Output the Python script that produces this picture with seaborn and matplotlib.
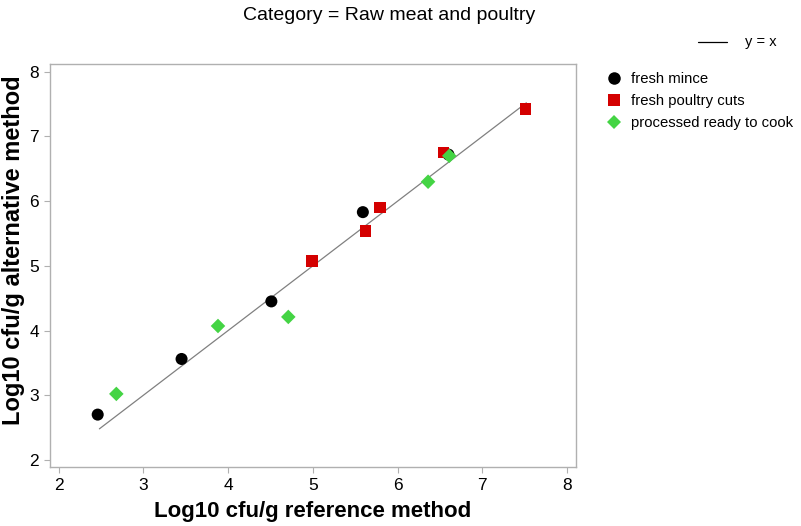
import matplotlib
matplotlib.use("Agg")
import matplotlib.pyplot as plt
import seaborn as sns
import pandas as pd
from matplotlib.lines import Line2D

sns.set_theme(style="white")
plt.rcParams['font.family'] = ['Liberation Sans', 'DejaVu Sans']
plt.rcParams['text.color'] = 'black'
plt.rcParams['axes.labelcolor'] = 'black'

groups = ["fresh mince", "fresh poultry cuts", "processed ready to cook"]
mince_ref = [2.46, 3.45, 4.51, 5.59, 6.60]
mince_alt = [2.70, 3.56, 4.45, 5.83, 6.72]
poultry_ref = [4.99, 5.62, 5.79, 6.54, 7.51]
poultry_alt = [5.07, 5.54, 5.90, 6.75, 7.42]
processed_ref = [2.68, 3.88, 4.71, 6.36, 6.61]
processed_alt = [3.02, 4.07, 4.21, 6.30, 6.70]
line_range = [2.48, 7.52]

df = pd.DataFrame({
    "ref": mince_ref + poultry_ref + processed_ref,
    "alt": mince_alt + poultry_alt + processed_alt,
    "group": [groups[0]] * len(mince_ref) + [groups[1]] * len(poultry_ref) + [groups[2]] * len(processed_ref),
})

colors = {groups[0]: "#000000", groups[1]: "#d40000", groups[2]: "#44d444"}
markers = {groups[0]: "o", groups[1]: "s", groups[2]: "D"}
sizes = {groups[0]: 75, groups[1]: 70, groups[2]: 55}

fig = plt.figure(figsize=(8.01, 5.26), dpi=100)
ax = fig.add_axes([50 / 801, 1 - 467 / 526, 526 / 801, 403 / 526])

ax.plot(line_range, line_range, color="#808080", lw=0.9, zorder=1)
for g in groups:
    sub = df[df.group == g]
    sns.scatterplot(data=sub, x="ref", y="alt", color=colors[g], marker=markers[g],
                    s=sizes[g], edgecolor="none", linewidth=0, ax=ax, zorder=3, legend=False)

ax.set_xlim(1.897, 8.106)
ax.set_ylim(1.89, 8.12)
ax.set_xticks([2, 3, 4, 5, 6, 7, 8])
ax.set_yticks([2, 3, 4, 5, 6, 7, 8])
for s in ax.spines.values():
    s.set_color("#b0b0b0")
    s.set_linewidth(1.0)
ax.tick_params(axis="both", which="both", bottom=True, left=True, direction="out",
               length=4, width=0.8, color="#b0b0b0", labelsize=12.5, labelcolor="black", pad=4)
ax.set_xlabel("Log10 cfu/g reference method", fontsize=16, fontweight="bold", labelpad=6)
ax.set_ylabel("Log10 cfu/g alternative method", fontsize=17, fontweight="bold")
ax.yaxis.set_label_coords((25 - 50) / 526, (467 - 250) / 403)

fig.text(389 / 801, 1 - 16 / 526, "Category = Raw meat and poultry",
         ha="center", va="center", fontsize=14)

# line legend
fig.add_artist(Line2D([698 / 801, 727 / 801], [1 - 42 / 526, 1 - 42 / 526],
                      color="black", lw=0.9, transform=fig.transFigure))
fig.text(745 / 801, 1 - 42 / 526, "y = x", ha="left", va="center", fontsize=10.5)

handles = [Line2D([], [], linestyle="none", marker=markers[g], color=colors[g],
                  markersize={groups[0]: 9, groups[1]: 8, groups[2]: 7.5}[g], markeredgewidth=0)
           for g in groups]
fig.legend(handles, groups, loc="upper left", bbox_to_anchor=(607 / 801, 1 - 72 / 526),
           frameon=False, fontsize=10.7, handlelength=1.0, handletextpad=0.6,
           labelspacing=0.55, borderaxespad=0, borderpad=0)

fig.savefig("out.png", dpi=100)
